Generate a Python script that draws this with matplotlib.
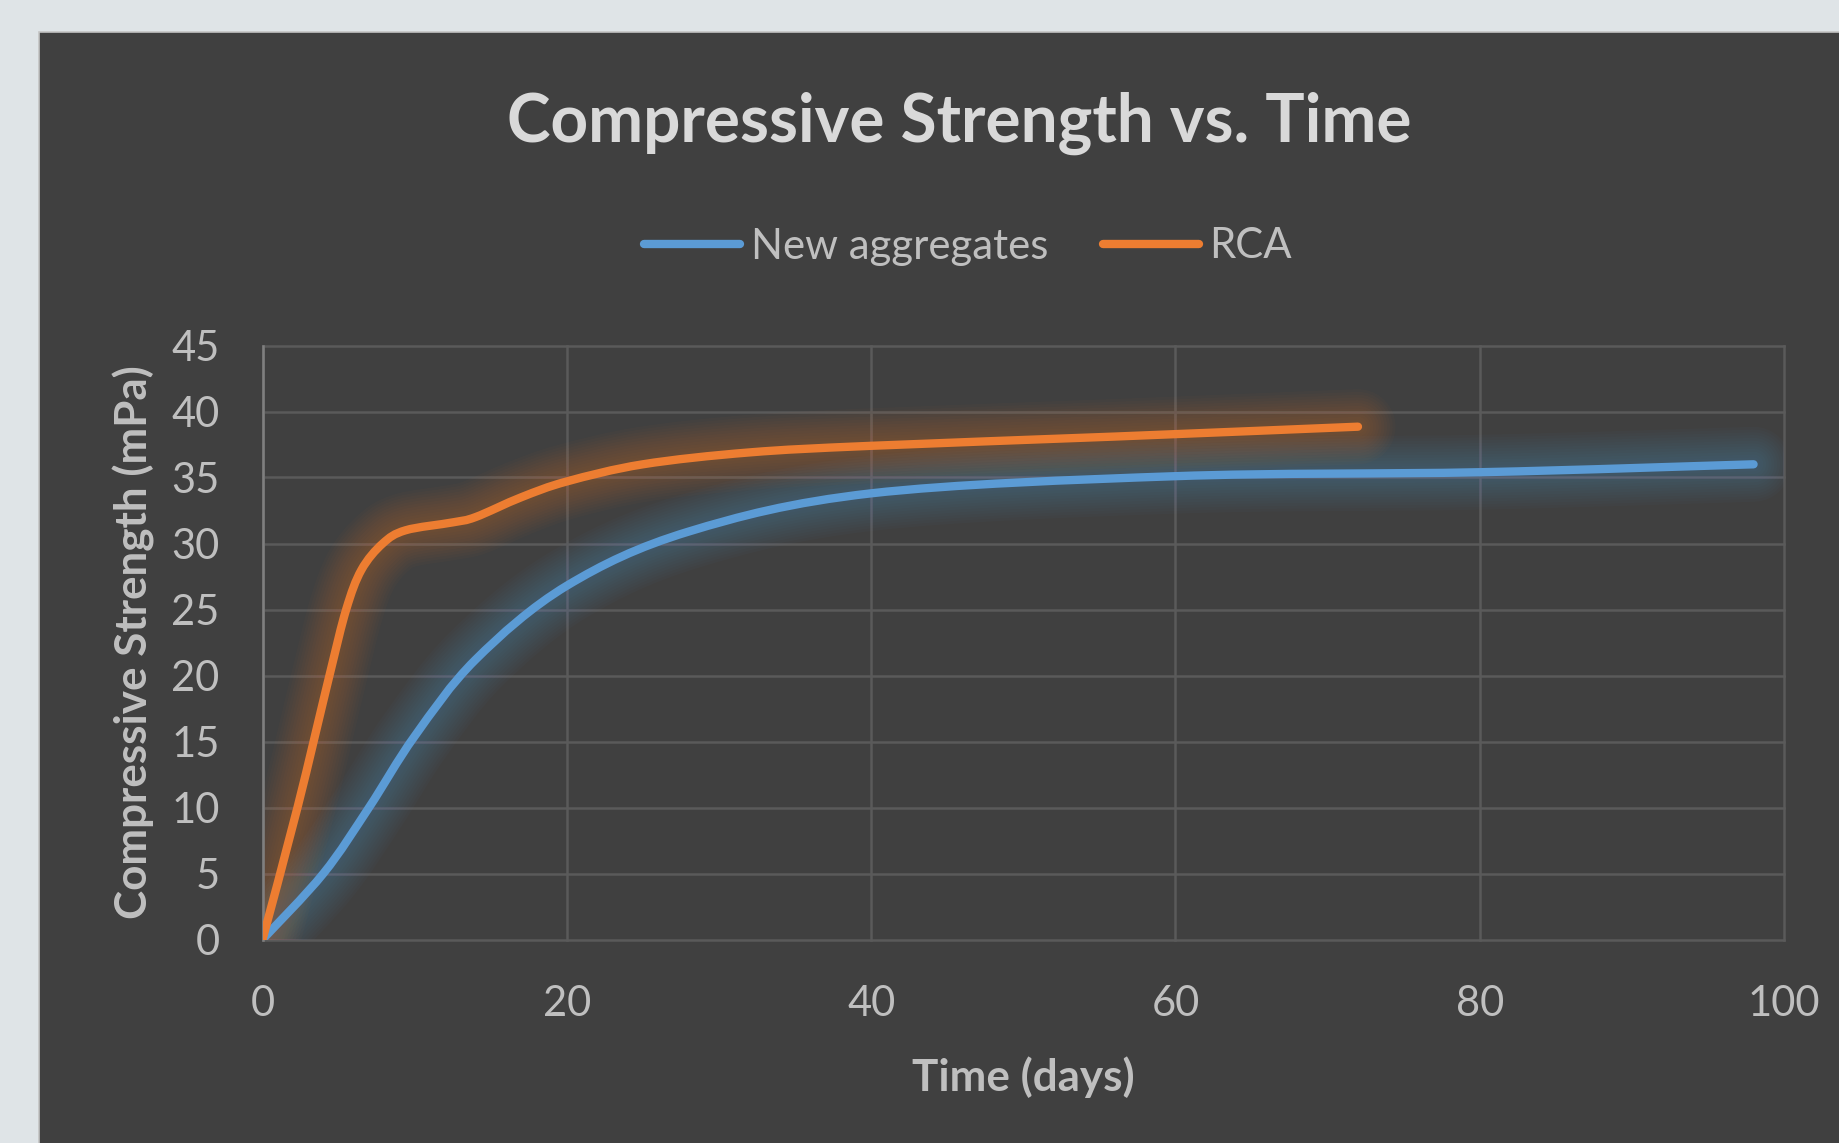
import numpy as np
import matplotlib
matplotlib.use("Agg")
import matplotlib.pyplot as plt
from matplotlib.patches import Rectangle, PathPatch
from matplotlib.path import Path
from matplotlib.lines import Line2D

# ---------------- data ----------------
new_days = [0, 4, 7, 10, 14, 20, 28, 40, 60, 80, 98]
new_vals = [0, 5.0, 10.0, 15.4, 21.2, 26.8, 30.9, 33.8, 35.1, 35.4, 36.0]

rca_days = [0, 2.3, 4.4, 5.5, 6.5, 7.9, 9.4, 12.5, 14, 17, 20, 25, 32, 40, 56, 72]
rca_vals = [0, 10.0, 20.0, 25.0, 28.0, 30.0, 31.0, 31.6, 32.0, 33.5, 34.7, 36.0, 36.9, 37.4, 38.1, 38.85]

series_names = ["New aggregates", "RCA"]
x_ticks = [0, 20, 40, 60, 80, 100]
y_ticks = [0, 5, 10, 15, 20, 25, 30, 35, 40, 45]
title = "Compressive Strength vs. Time"
x_label = "Time (days)"
y_label = "Compressive Strength (mPa)"

BLUE = "#5b9bd5"
ORANGE = "#ed7d31"

plt.rcParams['font.family'] = ['Lato', 'DejaVu Sans']

W, H = 1839, 1143
fig = plt.figure(figsize=(W / 100, H / 100), dpi=100)
fig.patch.set_facecolor('#dfe4e7')

panel = Rectangle((39 / W, -0.01), 1.1, 1 - 32 / H + 0.01, transform=fig.transFigure,
                  facecolor='#404040', edgecolor='#c4c4c4', lw=1.2, zorder=-5)
fig.patches.append(panel)

ax = fig.add_axes([262.5 / W, 1 - 939.5 / H, 1521.5 / W, 594 / H])
ax.set_zorder(2)
ax.set_facecolor('none')
ax.set_xlim(0, 100)
ax.set_ylim(0, 45)
ax.set_xticks(x_ticks)
ax.set_yticks(y_ticks)
ax.grid(True, color='#5a5a5a', lw=1.8)
ax.set_axisbelow(True)
for ln in ax.get_xgridlines() + ax.get_ygridlines():
    ln.set_clip_on(False)
for s in ['top', 'right', 'bottom']:
    ax.spines[s].set_visible(False)
ax.spines['left'].set_color('#7f7f7f')
ax.spines['left'].set_linewidth(1.8)
ax.tick_params(axis='both', length=0, labelsize=30, labelcolor='#bfbfbf')
ax.tick_params(axis='x', pad=32.5)
ax.tick_params(axis='y', pad=31)


def smooth_path(xs, ys):
    # Excel-style smoothed line: cubic Bezier segments through the data points
    P = np.column_stack([xs, ys]).astype(float)
    n = len(P)
    verts = [P[0]]
    codes = [Path.MOVETO]
    for i in range(n - 1):
        p0 = P[i - 1] if i > 0 else P[i]
        p1 = P[i]
        p2 = P[i + 1]
        p3 = P[i + 2] if i + 2 < n else P[i + 1]
        c1 = p1 + (p2 - p0) / 6.0
        c2 = p2 - (p3 - p1) / 6.0
        verts += [c1, c2, p2]
        codes += [Path.CURVE4] * 3
    return Path(np.array(verts), codes)


for xs, ys, col in [(new_days, new_vals, BLUE), (rca_days, rca_vals, ORANGE)]:
    path = smooth_path(xs, ys)
    # soft glow around the line
    for lw in np.linspace(10, 54, 12):
        ax.add_patch(PathPatch(path, transform=ax.transData, fill=False, edgecolor=col,
                               lw=lw, alpha=0.027, capstyle='round', joinstyle='round',
                               zorder=2))
for xs, ys, col in [(new_days, new_vals, BLUE), (rca_days, rca_vals, ORANGE)]:
    path = smooth_path(xs, ys)
    ax.add_patch(PathPatch(path, transform=ax.transData, fill=False, edgecolor=col,
                           lw=6, capstyle='round', joinstyle='round', zorder=3))

handles = [Line2D([], [], color=BLUE, lw=6, solid_capstyle='round'),
           Line2D([], [], color=ORANGE, lw=6, solid_capstyle='round')]
leg = fig.legend(handles, series_names, loc='center',
                 bbox_to_anchor=(968 / W, 1 - 246.5 / H), ncol=2, frameon=False,
                 fontsize=30.2, handlelength=2.3, handletextpad=0.25, columnspacing=1.3,
                 labelcolor='#bfbfbf')

fig.text(958.8 / W, 1 - 141.7 / H, title, ha='center', va='baseline',
         fontsize=47.3, fontweight='bold', color='#d9d9d9')

ax.set_xlabel(x_label, fontsize=31.7, fontweight='bold', color='#bfbfbf')
ax.xaxis.set_label_coords(0.5, (939.5 - 1077) / 594)
ax.xaxis.label.set_va('center')
ax.set_ylabel(y_label, fontsize=31.7, fontweight='bold', color='#bfbfbf')
ax.yaxis.set_label_coords((134 - 262.5) / 1521.5, 0.5)
ax.yaxis.label.set_va('center')

fig.savefig("out.png", dpi=100, facecolor=fig.get_facecolor())
